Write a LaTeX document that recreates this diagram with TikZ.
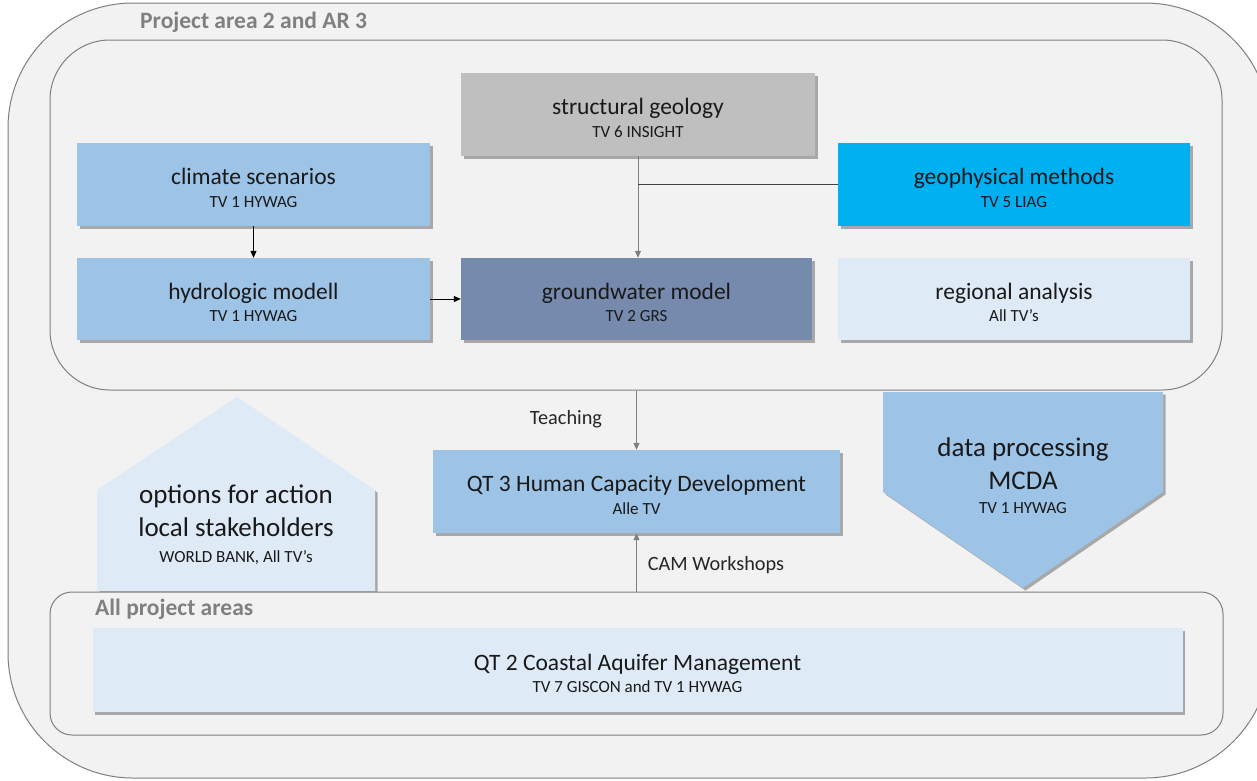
\documentclass[tikz,border=0pt]{standalone}
\usepackage{fontspec}
\setmainfont{Carlito}
\usetikzlibrary{shadows,arrows.meta}

\definecolor{panel}{HTML}{F2F2F2}
\definecolor{rim}{HTML}{7F7F7F}
\definecolor{lightblue}{HTML}{9DC3E6}
\definecolor{paleblue}{HTML}{DEEBF7}
\definecolor{cyanblue}{HTML}{00B0F0}
\definecolor{stone}{HTML}{BFBFBF}
\definecolor{slate}{HTML}{768AAE}
\definecolor{labelgray}{HTML}{808080}

% two-line card text: title and team
\newcommand{\cardtext}[2]{\rule{0pt}{22.6pt}#1\\{\fontsize{17}{18}\selectfont #2}}

\tikzset{
  area/.style={draw=rim, line width=1pt, fill=panel},
  card/.style={rectangle, inner sep=0pt, align=center, text=black!90,
    font=\fontsize{23.5}{22.5}\selectfont, text depth=0pt,
    drop shadow={shadow xshift=2.5pt, shadow yshift=-2.5pt, opacity=0.3, fill=black}},
  shapeshadow/.style={drop shadow={shadow xshift=2.5pt, shadow yshift=-2.5pt, opacity=0.3, fill=black}},
  bigtext/.style={align=center, inner sep=0pt, text=black!90, font=\fontsize{27}{33}\selectfont},
  arealabel/.style={font=\bfseries\fontsize{23.5}{26}\selectfont, text=labelgray, inner sep=0pt},
  flowtip/.style={-{Triangle[length=7pt,width=6pt]}},
  shortlink/.style={flowtip, line width=0.8pt, draw=black},
  longlink/.style={flowtip, line width=1pt, draw=rim},
  edgelabel/.style={font=\fontsize{20.3}{22}\selectfont, text=black!85, inner sep=0pt},
}

\begin{document}
\begin{tikzpicture}[x=1pt, y=-1pt]
\useasboundingbox (0,0) rectangle (1257,780);
\clip (0,0) rectangle (1257,780);
\fill[white] (0,0) rectangle (1257,780);

% project area frames
\node[area, rounded corners=125pt, minimum width=1262pt, minimum height=775pt] (outer) at (639,390.5) {};
\node[arealabel, anchor=west] (outerlabel) at (140,22) {Project area 2 and AR 3};
\node[area, rounded corners=60pt, minimum width=1172pt, minimum height=350pt] (upper) at (636,215) {};

% work packages inside the upper frame
\node[card, fill=stone, minimum width=354pt, minimum height=83pt] (geol) at (638,114.5)
  {\cardtext{structural geology}{TV 6 INSIGHT}};
\node[card, fill=lightblue, minimum width=353pt, minimum height=83pt] (clim) at (253.5,184.5)
  {\cardtext{climate scenarios}{TV 1 HYWAG}};
\node[card, fill=cyanblue, minimum width=352pt, minimum height=83pt] (geoph) at (1014,184.5)
  {\cardtext{geophysical methods}{TV 5 LIAG}};
\node[card, fill=lightblue, minimum width=353pt, minimum height=82pt] (hydro) at (253.5,299)
  {\cardtext{hydrologic modell}{TV 1 HYWAG}};
\node[card, fill=slate, minimum width=351pt, minimum height=82pt] (gw) at (636.5,299)
  {\cardtext{groundwater model}{TV 2 GRS}};
\node[card, fill=paleblue, minimum width=352pt, minimum height=82pt] (reg) at (1014,299)
  {\cardtext{regional analysis}{All TV’s}};

% links inside the upper frame
\draw[shortlink] (clim.south) -- (hydro.north);
\draw[shortlink] (hydro.east) -- (gw.west);
\draw[longlink] (geol.south) -- (geol.south |- gw.north);
\draw[line width=0.8pt, draw=black!75] (geoph.west) -- (geol.south |- geoph.west);

% stakeholder arrow (pointing up)
\fill[paleblue, shapeshadow] (97,591) -- (97,490) -- (237,397) -- (375,490) -- (375,591) -- cycle;
\node[bigtext] (options) at (236,525)
  {options for action\\local stakeholders\\[-7pt]{\fontsize{17}{18}\selectfont WORLD BANK, All TV’s}};

% data processing arrow (pointing down)
\fill[lightblue, shapeshadow] (883,392) -- (1163,392) -- (1163,492) -- (1023,588) -- (883,492) -- cycle;
\node[bigtext] (mcda) at (1023,476)
  {data processing\\MCDA\\[-9pt]{\fontsize{17}{18}\selectfont TV 1 HYWAG}};

% lower frame
\node[area, rounded corners=22pt, minimum width=1173pt, minimum height=143pt] (lower) at (636.5,663.5) {};
\node[arealabel, anchor=west] (lowerlabel) at (95,609) {All project areas};
\node[card, fill=paleblue, minimum width=1090pt, minimum height=84pt] (cam) at (637.5,670)
  {\cardtext{QT 2 Coastal Aquifer Management}{TV 7 GISCON and TV 1 HYWAG}};

% capacity development
\node[card, fill=lightblue, minimum width=407pt, minimum height=83pt] (hcd) at (636.5,491.5)
  {\cardtext{QT 3 Human Capacity Development}{Alle TV}};
\draw[longlink] (hcd.north |- upper.south) -- (hcd.north);
\draw[longlink] (hcd.south |- lower.north) -- (hcd.south);
\node[edgelabel] (teach) at (566,419) {Teaching};
\node[edgelabel] (camws) at (716,565) {CAM Workshops};
\end{tikzpicture}
\end{document}
